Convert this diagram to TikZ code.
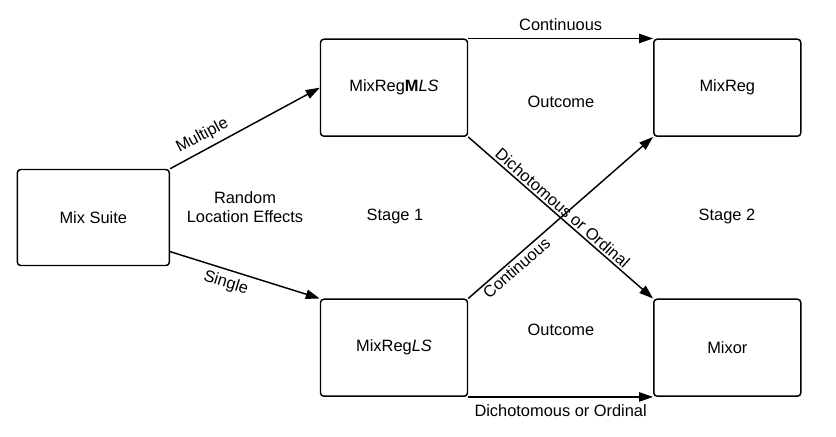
\documentclass[tikz,border=0pt]{standalone}
\usepackage{fontspec}
\setmainfont{Liberation Sans}
\usetikzlibrary{arrows.meta,calc}

\begin{document}
\begin{tikzpicture}[x=0.75pt,y=0.75pt,yscale=-1,xscale=1,
        font=\fontsize{12.3}{14.5}\selectfont,
        box/.style={draw,line width=1.1pt,rounded corners=2.5pt,minimum width=110.25pt,minimum height=72.75pt,inner sep=0pt},
        link/.style={line width=1.1pt,-{Triangle[length=10.5pt,width=7pt]}}]
        \useasboundingbox (0,0) rectangle (836,436);

        %Shape: Rectangle
        \node [box,minimum width=114pt,minimum height=72pt] (mix) at (93.3,217.5) {Mix Suite};
        %Shape: Rectangle
        \node [box] (mls) at (394,87.7) {MixReg\textbf{M}\textit{LS}};
        %Shape: Rectangle
        \node [box] (mreg) at (727.3,87.7) {MixReg};
        %Shape: Rectangle
        \node [box] (ls) at (394,347.7) {MixReg\textit{LS}};
        %Shape: Rectangle
        \node [box] (mixor) at (727.3,347.7) {Mixor};

        %Straight Lines
        \draw [link] (mix.north east) -- (mls.west) node [pos=0.26,rotate=28.2,anchor=south,inner sep=4pt] {Multiple};
        %Straight Lines
        \draw [link] ($(mix.south east)!0.15!(mix.north east)$) -- (ls.north west) node [pos=0.4,rotate=-17.6,anchor=north,inner sep=4pt] {Single};
        %Straight Lines
        \draw [link] (mls.north east) -- (mreg.north west) node [midway,above=2pt] {Continuous};
        %Straight Lines
        \draw [link] (ls.south east) -- (mixor.south west) node [midway,below=2pt] {Dichotomous or Ordinal};
        %Straight Lines
        \draw [link] (mls.south east) -- (mixor.north west) node [pos=0.48,rotate=-41.2,anchor=south,inner sep=1.5pt] {Dichotomous or Ordinal};
        %Straight Lines
        \draw [link] (ls.north east) -- (mreg.south west) node [pos=0.23,rotate=41.2,anchor=north,inner sep=1.5pt] {Continuous};

        % Text Node
        \node [align=center] (rle) at (245,207) {Random\\Location Effects};
        % Text Node
        \node (st1) at (395,216) {Stage 1};
        % Text Node
        \node (st2) at (727,216) {Stage 2};
        % Text Node
        \node (out1) at (561,102) {Outcome};
        % Text Node
        \node (out2) at (561,330) {Outcome};

\end{tikzpicture}
\end{document}
